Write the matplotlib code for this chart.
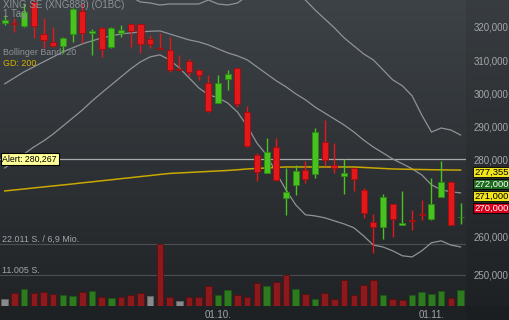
import numpy as np
import matplotlib
matplotlib.use("Agg")
import matplotlib.pyplot as plt
import matplotlib.transforms as mtransforms
from matplotlib.ticker import FuncFormatter, NullLocator

plt.rcParams['font.family'] = ['Liberation Sans', 'DejaVu Sans']

# daily candles (EUR)
opens = [321.1, 321.3, 320.3, 327.6, 317.9, 315.4, 314.4, 317.8, 324.8, 318.1,
         319.8, 314.1, 318.1, 320.8, 320.8, 316.3, 313.8, 313.1, 307.3, 309.8,
         307.1, 303.2, 297.2, 304.3, 307.6, 294.5, 281.4, 276.7, 284.0, 270.0,
         273.5, 277.4, 276.3, 285.5, 278.7, 275.9, 277.8, 272.2, 263.9, 262.4,
         268.4, 263.0, 264.4, 265.9, 264.5, 270.4, 274.3, 265.0]
highs = [323.6, 322.7, 327.3, 329.0, 322.6, 320.1, 317.1, 325.6, 327.1, 319.3,
         320.0, 320.0, 320.6, 321.0, 321.0, 317.6, 318.1, 316.9, 311.6, 310.3,
         307.3, 305.6, 305.6, 307.1, 307.8, 296.2, 282.0, 286.5, 286.5, 277.8,
         278.7, 279.6, 289.5, 292.0, 285.0, 280.2, 278.0, 272.8, 265.9, 271.1,
         268.6, 271.9, 267.0, 269.6, 275.4, 279.6, 274.5, 268.7]
lows = [320.6, 318.5, 320.1, 316.7, 313.6, 314.1, 312.1, 315.6, 315.3, 311.6,
        311.1, 313.6, 317.1, 314.1, 312.1, 313.6, 313.4, 306.3, 307.0, 305.1,
        304.1, 294.5, 297.1, 301.1, 295.9, 284.0, 274.5, 276.5, 274.5, 265.7,
        270.9, 274.1, 275.2, 278.3, 276.5, 271.1, 272.0, 264.8, 255.7, 259.3,
        259.8, 262.9, 261.7, 264.3, 264.3, 270.3, 262.9, 263.3]
closes = [322.1, 320.9, 324.6, 320.4, 316.1, 314.3, 316.8, 325.4, 318.1, 318.8,
          313.4, 319.8, 319.1, 318.9, 314.9, 314.9, 313.5, 307.1, 307.1, 306.4,
          305.6, 294.8, 303.2, 305.8, 296.7, 284.2, 276.9, 282.5, 274.8, 271.6,
          277.0, 275.0, 288.3, 280.0, 277.9, 276.5, 275.0, 266.1, 262.4, 270.3,
          264.5, 263.5, 264.2, 265.7, 268.4, 274.2, 263.0, 265.2]
volumes = [2380, 4500, 6030, 4720, 5080, 4260, 3800, 3550, 4860, 5330,
           3200, 2730, 3200, 3800, 4500, 3440, 22011, 3300, 1670, 3200,
           3200, 7100, 3800, 5790, 3800, 3300, 8060, 7100, 8520, 11000,
           6030, 4150, 2380, 4610, 2490, 9230, 3900, 7460, 9230, 3800,
           2380, 2130, 3800, 4860, 4150, 5220, 2950, 5680]

# Bollinger band (20) and 200-day average
bb_upper = [329.9, 330.5, 331.1, 332.0, 333.2, 334.1, 334.7, 334.7, 334.7, 333.8,
            333.2, 332.0, 330.8, 329.0, 327.5, 327.2, 326.6, 326.9, 326.9, 326.9,
            326.9, 328.1, 326.9, 326.6, 327.2, 329.3, 331.1, 332.3, 332.9, 332.3,
            330.5, 328.1, 325.1, 322.4, 319.7, 316.7, 314.3, 311.9, 310.1, 307.1,
            304.1, 302.3, 299.3, 293.5, 288.4, 289.6, 289.0, 287.5]
bb_mid = [302.9, 304.7, 306.5, 308.0, 309.5, 311.0, 312.5, 313.7, 314.9, 315.8,
          316.7, 317.3, 317.9, 318.2, 318.5, 318.7, 318.8, 317.9, 317.0, 316.1,
          315.5, 314.6, 313.4, 312.2, 311.3, 310.1, 308.0, 305.9, 303.8, 302.0,
          299.9, 298.1, 295.9, 294.1, 292.3, 290.5, 288.4, 286.0, 283.9, 282.1,
          280.3, 279.0, 277.7, 276.1, 273.5, 272.2, 271.7, 271.4]
bb_lower = [277.9, 279.7, 281.8, 283.9, 285.7, 287.8, 290.2, 292.6, 295.0, 297.7,
            300.2, 302.6, 305.0, 307.4, 309.5, 311.0, 311.6, 310.1, 307.7, 304.7,
            301.7, 299.6, 298.7, 297.1, 294.4, 290.2, 285.1, 281.5, 276.6, 272.2,
            268.3, 265.7, 265.4, 264.9, 264.1, 263.3, 262.3, 260.2, 257.8, 257.3,
            256.3, 255.0, 254.7, 256.3, 258.4, 258.9, 257.8, 257.3]
gd200 = [271.91, 272.17, 272.43, 272.70, 272.96, 273.22, 273.48, 273.74, 274.03, 274.29,
         274.57, 274.83, 275.12, 275.38, 275.67, 275.93, 276.22, 276.48, 276.61, 276.74,
         276.87, 277.00, 277.13, 277.26, 277.44, 277.65, 277.78, 277.91, 278.04, 278.17,
         278.17, 278.17, 278.17, 278.17, 278.17, 278.17, 278.17, 278.04, 277.91, 277.78,
         277.65, 277.60, 277.55, 277.50, 277.45, 277.42, 277.39, 277.36]

date_ticks = [22, 44]
date_labels = ["01.10.", "01.11."]
price_ticks = [250, 260, 280, 290, 300, 310, 320]  # 270 sits under the price tags
alert_level = 280.267
vol_levels = [11005, 22011]
turnover_label = "6,9 Mio."
tag_values = [277.355, 272.0, 271.0, 270.0]
tag_colors = [("#f2e51c", "black"), ("#1d6b1d", "white"),
              ("#f2e51c", "black"), ("#d8001c", "white")]

GREEN, GREEN_EDGE = "#47c21f", "#2e8a12"
RED, RED_EDGE = "#e2181b", "#a50c0e"
TXT = "#a3a7ab"

W, H = 510, 320
fig = plt.figure(figsize=(W / 100, H / 100), dpi=100)

# dark gradient background
bg = fig.add_axes([0, 0, 1, 1], zorder=-10)
rows = np.linspace(0, 1, 306)[:, None, None]
top = np.array([61, 66, 70]) / 255
bot = np.array([33, 36, 39]) / 255
grad = np.repeat(top + (bot - top) * rows, W, axis=1)
grad = np.concatenate([grad, np.tile(np.array([30, 33, 36]) / 255, (H - 306, W, 1))])
grad[:, 466:] *= 0.92
bg.imshow(grad, aspect='auto', extent=(0, W, H, 0))
bg.set_axis_off()

plot_w, plot_h = 466, 306
ax_vol = fig.add_axes([0, (H - plot_h) / H, plot_w / W, plot_h / H])
ax_vol.patch.set_visible(False)
ax = ax_vol.twinx()


# the price axis of the source is stretched below 280
def fwd(v):
    v = np.asarray(v, dtype=float)
    return np.where(v >= 280, (v - 280) * 3.325, (v - 280) * 3.833)


def inv(t):
    t = np.asarray(t, dtype=float)
    return np.where(t >= 0, 280 + t / 3.325, 280 + t / 3.833)


x = np.arange(len(opens))
o, hi, lo, c = (np.array(a) for a in (opens, highs, lows, closes))

# volume, coloured by change against the previous close
prev = np.r_[np.nan, c[:-1]]
vol_col, vol_edge = [], []
for cur, p in zip(c, prev):
    if np.isnan(p) or cur == p:
        vol_col.append("#8a8a8a"); vol_edge.append("#666666")
    elif cur > p:
        vol_col.append("#2d7a1f"); vol_edge.append("#1d5514")
    else:
        vol_col.append("#8c1a1c"); vol_edge.append("#5e0e10")
ax_vol.bar(x, volumes, width=0.68, color=vol_col, edgecolor=vol_edge, lw=0.6, zorder=2)
for lvl in vol_levels:
    ax_vol.axhline(lvl, color="#4b4f53", lw=0.8, zorder=1)
# tallest bar takes 62 of the 306 px
ax_vol.set_ylim(0, max(volumes) * plot_h / 62)
blend = mtransforms.blended_transform_factory(ax_vol.transAxes, ax_vol.transData)
fmt_vol = lambda v: f"{v:,}".replace(",", ".") + " S."
ax_vol.text(0.004, vol_levels[1], fmt_vol(vol_levels[1]) + " / " + turnover_label,
            transform=blend, va="bottom", fontsize=6.4, color=TXT)
ax_vol.text(0.004, vol_levels[0], fmt_vol(vol_levels[0]),
            transform=blend, va="bottom", fontsize=6.4, color=TXT)

# price
ax.set_yscale('function', functions=(fwd, inv))
ax.axhline(alert_level, color="#a9a9a9", lw=0.9, zorder=2)
ax.plot(x, bb_upper, color="#8f9397", lw=0.9, zorder=2)
ax.plot(x, bb_mid, color="#8f9397", lw=0.9, zorder=2)
ax.plot(x, bb_lower, color="#8f9397", lw=0.9, zorder=2)
ax.plot(x, gd200, color="#c9a800", lw=1.1, zorder=2)

up = c >= o
col = np.where(up, GREEN, RED)
edge = np.where(up, GREEN_EDGE, RED_EDGE)
ax.vlines(x, lo, hi, colors=col, lw=1.0, zorder=3)
ax.bar(x, np.abs(c - o), bottom=np.minimum(o, c), width=0.62,
       color=col, edgecolor=edge, lw=0.6, zorder=4)

ax.set_xlim(-0.485, 47.56)
ax.set_ylim(241.9, 328.1)
ax.set_yticks(price_ticks)
ax.yaxis.set_major_formatter(FuncFormatter(lambda v, _: f"{v:.3f}".replace(".", ",")))
ax.yaxis.set_minor_locator(NullLocator())
ax.tick_params(axis="y", length=0, pad=5.8, labelsize=7, labelcolor=TXT)

ax_vol.yaxis.set_visible(False)
ax_vol.set_xticks(date_ticks, date_labels)
ax_vol.tick_params(axis="x", length=0, pad=3.2, labelsize=7, labelcolor=TXT)
for a in (ax, ax_vol):
    for s in a.spines.values():
        s.set_visible(False)

# header texts
px = lambda xp, yp: (xp / W, 1 - yp / H)
fig.text(*px(3, 7.5), "XING SE (XNG888) (O1BC)", fontsize=7, color="#8e9397", va="baseline")
fig.text(*px(3, 17), "1 Tag", fontsize=7, color="#8e9397", va="baseline")
fig.text(*px(3, 55), "Bollinger Band: 20", fontsize=6.4, color="#8e9397", va="baseline")
fig.text(*px(3, 66), "GD: 200", fontsize=6.4, color="#d6b300", va="baseline")

# alert box
fig.text(*px(2.5, 159), "Alert: " + f"{alert_level:.3f}".replace(".", ","),
         fontsize=6.3, color="black", va="center",
         bbox=dict(boxstyle="square,pad=0.2", fc="#ffff99", ec="black", lw=0.8))

# price tags on the right, stacked
for k, (val, (fc, tc)) in enumerate(zip(tag_values, tag_colors)):
    fig.text(*px(474, 172 + k * 12), f"{val:.3f}".replace(".", ","),
             fontsize=6.8, color=tc, va="center",
             bbox=dict(boxstyle="square,pad=0.08", fc=fc, ec="black", lw=0.6))

fig.savefig("out.png", dpi=100)
